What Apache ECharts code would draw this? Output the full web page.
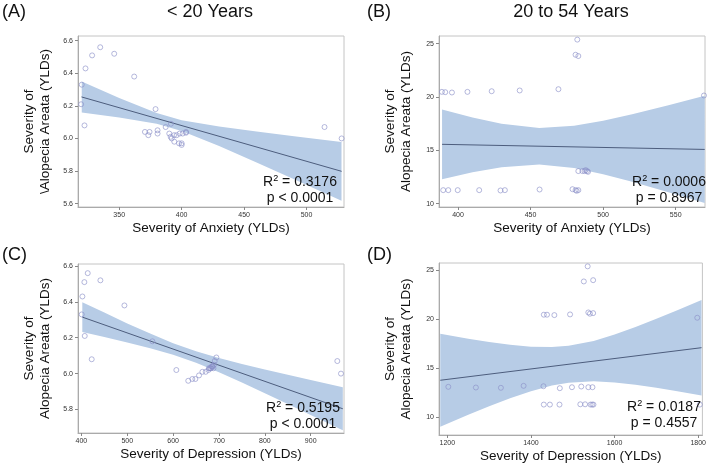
<!DOCTYPE html>
<html>
<head>
<meta charset="utf-8">
<script src="https://cdn.jsdelivr.net/npm/echarts@6/dist/echarts.min.js"></script>
<style>
  html, body { margin: 0; background: #fff; }
  #chart { width: 709px; height: 464px; }
</style>
</head>
<body>
<div id="chart"></div>
<script>
// (A) < 20 years: anxiety vs alopecia areata
const anxietyU20 = [334.8, 328.3, 346.0, 323.0, 362.0, 320.0, 319.5, 322.2, 379.1, 391.4, 387.2, 370.6, 374.3, 373.3, 380.7, 380.7, 390.1, 391.2, 392.0, 394.1, 393.9, 397.9, 400.0, 400.0, 398.4, 400.8, 403.5, 403.5, 396.0, 514.4, 528.1]
const aaU20A = [6.56, 6.51, 6.52, 6.43, 6.38, 6.33, 6.21, 6.08, 6.18, 6.09, 6.07, 6.04, 6.04, 6.02, 6.05, 6.03, 6.03, 6.01, 6.00, 5.98, 6.02, 5.97, 5.96, 5.97, 6.03, 6.03, 6.035, 6.04, 6.02, 6.07, 6.00]
const bandXA = [320, 350, 380, 400, 430, 460, 490, 528]
const upperA = [6.350, 6.249, 6.156, 6.112, 6.073, 6.042, 6.013, 5.978]
const lowerA = [6.160, 6.129, 6.090, 6.046, 5.953, 5.852, 5.749, 5.618]
const fitXA = [319.8, 528.1]
const fitYA = [6.255, 5.798]

// (B) 20 to 54 years: anxiety vs alopecia areata
const anxiety2054 = [482.2, 481.0, 482.9, 388.9, 391.2, 395.8, 406.5, 423.2, 442.5, 469.2, 569.5, 389.8, 393.3, 399.8, 414.6, 429.3, 432.3, 456.2, 478.9, 481.0, 482.9, 481.8, 482.9, 485.7, 488.0, 488.9, 489.6, 487.2]
const aa2054B = [25.38, 23.96, 23.84, 20.48, 20.45, 20.42, 20.48, 20.54, 20.61, 20.73, 20.14, 11.26, 11.26, 11.26, 11.26, 11.23, 11.26, 11.32, 11.35, 11.26, 11.26, 11.2, 13.05, 13.05, 13.14, 13.05, 12.98, 13.05]
const bandXB = [389, 410, 430, 456, 480, 500, 520, 545, 570]
const upperB = [18.83, 18.07, 17.48, 17.10, 17.31, 17.77, 18.38, 19.22, 20.11]
const lowerB = [12.29, 12.93, 13.42, 13.66, 13.33, 12.76, 12.05, 11.07, 10.05]
const fitXB = [389, 570]
const fitYB = [15.56, 15.08]

// (C) < 20 years: depression vs alopecia areata
const depressionU20 = [413.8, 406.5, 441.4, 402.2, 493.8, 400.7, 407.3, 422.5, 554.8, 607.0, 633.0, 641.9, 648.5, 656.5, 663.8, 671.0, 677.0, 681.4, 685.7, 689.4, 694.3, 690.7, 680.0, 683.0, 686.0, 688.0, 678.0, 684.0, 958.0, 966.0]
const aaU20C = [6.56, 6.51, 6.52, 6.43, 6.38, 6.33, 6.21, 6.08, 6.18, 6.02, 5.96, 5.97, 5.97, 5.99, 6.01, 6.01, 6.02, 6.03, 6.04, 6.05, 6.09, 6.07, 6.03, 6.03, 6.04, 6.03, 6.03, 6.04, 6.07, 6.00]
const bandXC = [402, 450, 500, 550, 600, 650, 700, 750, 800, 850, 900, 970]
const upperC = [6.398, 6.340, 6.280, 6.223, 6.169, 6.124, 6.087, 6.054, 6.023, 5.994, 5.965, 5.924]
const lowerC = [6.232, 6.204, 6.174, 6.142, 6.105, 6.060, 6.007, 5.950, 5.891, 5.830, 5.769, 5.684]
const fitXC = [402, 970]
const fitYC = [6.315, 5.804]

// (D) 20 to 54 years: depression vs alopecia areata
const depression2054 = [1535.6, 1526.4, 1548.7, 1430.7, 1438.3, 1455.9, 1493.5, 1537.2, 1541.0, 1548.7, 1797.7, 1202.3, 1268.2, 1328.0, 1382.4, 1429.9, 1469.0, 1498.0, 1520.3, 1537.2, 1547.1, 1430.7, 1445.2, 1468.2, 1518.0, 1529.5, 1542.5, 1546.4, 1549.4, 1803.8]
const aa2054D = [25.37, 23.83, 23.96, 20.44, 20.44, 20.40, 20.47, 20.67, 20.54, 20.60, 20.13, 13.09, 13.02, 12.99, 13.19, 13.15, 12.95, 13.05, 13.12, 13.05, 13.05, 11.28, 11.28, 11.28, 11.31, 11.31, 11.28, 11.28, 11.28, 11.28]
const bandXD = [1183, 1250, 1300, 1350, 1400, 1450, 1490, 1550, 1600, 1650, 1700, 1750, 1808]
const upperD = [18.49, 18.00, 17.66, 17.38, 17.18, 17.14, 17.27, 17.77, 18.42, 19.18, 20.02, 20.90, 21.95]
const lowerD = [9.03, 10.24, 11.10, 11.92, 12.64, 13.22, 13.51, 13.65, 13.54, 13.30, 13.00, 12.64, 12.21]
const fitXD = [1183, 1808]
const fitYD = [13.76, 17.08]

// tick labels
const xTicksA = [350, 400, 450, 500]
const xTicksB = [400, 450, 500, 550]
const xTicksC = [400, 500, 600, 700, 800, 900]
const xTicksD = [1200, 1400, 1600, 1800]
const yTicksU20 = [5.6, 5.8, 6.0, 6.2, 6.4, 6.6]
const yTicks2054 = [10, 15, 20, 25]

const FONT = 'Liberation Sans, Arial, sans-serif'
const BAND = '#b7cce6'
const LINE = '#4d5d7d'
const DOT = '#8a8fc8'

const panels = [
  { x: anxietyU20, y: aaU20A, bx: bandXA, up: upperA, lo: lowerA, fx: fitXA, fy: fitYA,
    grid: { left: 78, top: 36, width: 266, height: 171 },
    xr: [317, 530], yr: [5.579, 6.629], xt: xTicksA, yt: yTicksU20, dec: 1,
    xName: 'Severity of Anxiety (YLDs)', yName: 'Severity of\n\\Alopecia Areata (YLDs)' },
  { x: anxiety2054, y: aa2054B, bx: bandXB, up: upperB, lo: lowerB, fx: fitXB, fy: fitYB,
    grid: { left: 439, top: 36, width: 266, height: 171 },
    xr: [386.9, 570.2], yr: [9.68, 25.72], xt: xTicksB, yt: yTicks2054, dec: 0,
    xName: 'Severity of Anxiety (YLDs)', yName: 'Severity of\nAlopecia Areata (YLDs)' },
  { x: depressionU20, y: aaU20C, bx: bandXC, up: upperC, lo: lowerC, fx: fitXC, fy: fitYC,
    grid: { left: 78, top: 264, width: 266, height: 169 },
    xr: [392.6, 972.6], yr: [5.669, 6.611], xt: xTicksC, yt: yTicksU20, dec: 1,
    xName: 'Severity of Depression (YLDs)', yName: 'Severity of\nAlopecia Areata (YLDs)' },
  { x: depression2054, y: aa2054D, bx: bandXD, up: upperD, lo: lowerD, fx: fitXD, fy: fitYD,
    grid: { left: 439, top: 263, width: 267, height: 174 },
    xr: [1180, 1810], yr: [8.18, 25.71], xt: xTicksD, yt: yTicks2054, dec: 0,
    xName: 'Severity of Depression (YLDs)', yName: 'Severity of\nAlopecia Areata (YLDs)' }
]

const grids = []
const xAxes = []
const yAxes = []
const series = []

panels.forEach((p, i) => {
  grids.push({ ...p.grid, show: true, borderColor: '#c4c4c4', borderWidth: 1, containLabel: false })
  xAxes.push({
    type: 'value', gridIndex: i, min: p.xr[0], max: p.xr[1],
    splitLine: { show: false },
    axisLine: { show: true, onZero: false, lineStyle: { color: '#aaa' } },
    axisTick: { show: true, length: 3, customValues: p.xt, lineStyle: { color: '#888' } },
    axisLabel: { customValues: p.xt, fontSize: 7, color: '#333', margin: 5, fontFamily: FONT,
      formatter: v => String(v) },
    name: p.xName, nameLocation: 'middle', nameGap: 14,
    nameTextStyle: { fontSize: 13.5, color: '#111', fontFamily: FONT }
  })
  yAxes.push({
    type: 'value', gridIndex: i, min: p.yr[0], max: p.yr[1],
    splitLine: { show: false },
    axisLine: { show: true, lineStyle: { color: '#aaa' } },
    axisTick: { show: true, length: 3, customValues: p.yt, lineStyle: { color: '#888' } },
    axisLabel: { customValues: p.yt, fontSize: 7, color: '#333', margin: 5, fontFamily: FONT,
      formatter: v => v.toFixed(p.dec) },
    name: p.yName, nameLocation: 'middle', nameGap: 24, nameRotate: 90,
    nameTextStyle: { fontSize: 13.5, lineHeight: 16.5, color: '#111', fontFamily: FONT, align: 'center' }
  })

  // confidence band as one polygon through the axis scales
  series.push({
    type: 'custom', xAxisIndex: i, yAxisIndex: i, z: 1, silent: true,
    data: [[p.bx[0], p.up[0]]],
    renderItem: (params, api) => {
      const top = p.bx.map((x, k) => api.coord([x, p.up[k]]))
      const bottom = p.bx.map((x, k) => api.coord([x, p.lo[k]])).reverse()
      return { type: 'polygon', shape: { points: top.concat(bottom) }, style: { fill: BAND } }
    }
  })
  // regression line
  series.push({
    type: 'line', xAxisIndex: i, yAxisIndex: i, symbol: 'none',
    lineStyle: { color: LINE, width: 1 },
    data: p.fx.map((x, k) => [x, p.fy[k]]), z: 2
  })
  // observations
  series.push({
    type: 'scatter', xAxisIndex: i, yAxisIndex: i, symbol: 'circle', symbolSize: 5,
    itemStyle: { color: 'rgba(255,255,255,0)', borderColor: DOT, borderWidth: 0.8 },
    data: p.x.map((x, k) => [x, p.y[k]]), z: 3
  })
})

const txt = (x, y, text, size, align = 'center') => ({
  type: 'text', x, y, z: 100,
  style: { text, font: `${size}px ${FONT}`, fill: '#111', align, verticalAlign: 'middle' }
})
const supRich = { n: { fontSize: 14, fontFamily: FONT, fill: '#111' }, s: { fontSize: 9, fontFamily: FONT, verticalAlign: 'top', padding: [0, 0, 6, 0] } }
const stat = (x, y, r2, p) => [
  { type: 'text', x, y, z: 100, style: { text: `{n|R}{s|2}{n| = ${r2}}`, rich: supRich, align: 'center', verticalAlign: 'middle', font: `14px ${FONT}` } },
  txt(x, y + 16.5, p, 14)
]

const chart = echarts.init(document.getElementById('chart'))
chart.setOption({
  animation: false,
  grid: grids,
  xAxis: xAxes,
  yAxis: yAxes,
  series,
  graphic: [
    txt(2, 12, '(A)', 18, 'left'),
    txt(367, 12, '(B)', 18, 'left'),
    txt(2, 255, '(C)', 18, 'left'),
    txt(367, 255, '(D)', 18, 'left'),
    txt(210, 12, '< 20 Years', 18),
    txt(571, 12, '20 to 54 Years', 18),
    ...stat(300, 182, '0.3176', 'p < 0.0001'),
    ...stat(669, 182, '0.0006', 'p = 0.8967'),
    ...stat(303, 408, '0.5195', 'p < 0.0001'),
    ...stat(664, 407, '0.0187', 'p = 0.4557')
  ]
})
</script>
</body>
</html>
